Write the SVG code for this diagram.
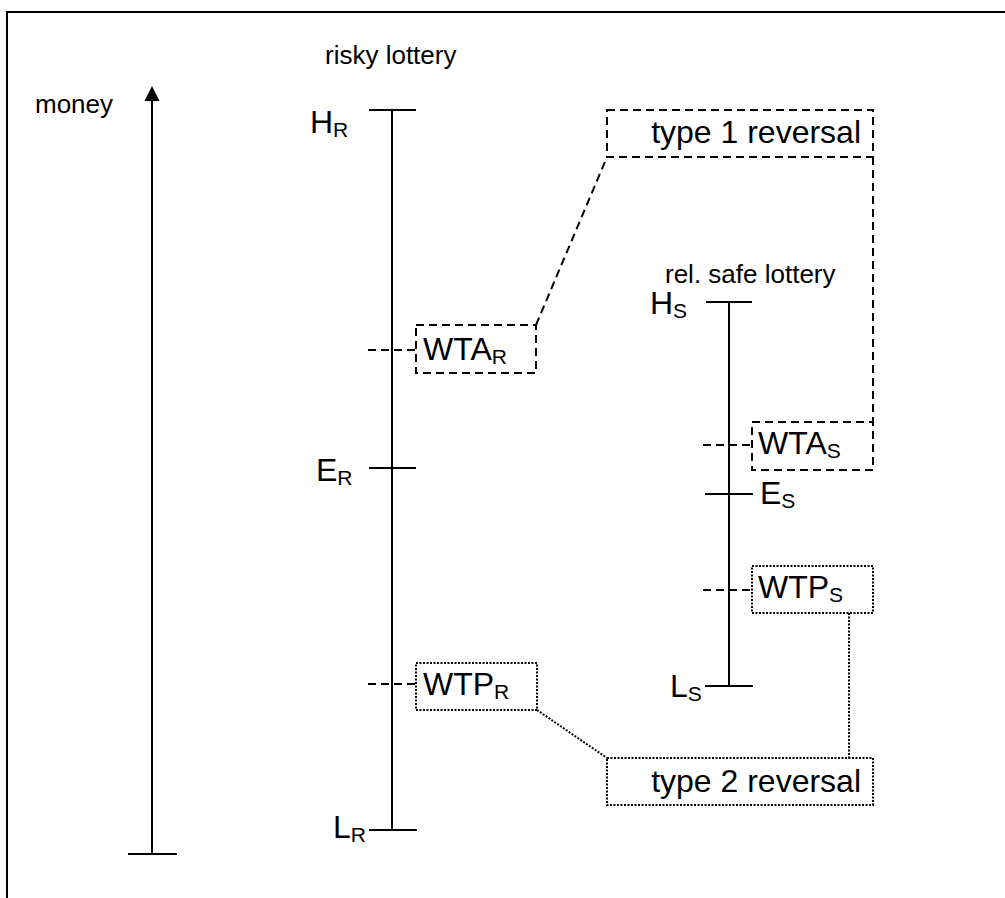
<svg xmlns="http://www.w3.org/2000/svg" width="1005" height="898" viewBox="0 0 1005 898">
<style>
.ln{stroke:#000;stroke-width:2;fill:none}
.da{stroke:#000;stroke-width:2;fill:none;stroke-dasharray:8 5}
.dt{stroke:#000;stroke-width:2;fill:none;stroke-dasharray:2 1.5}
.sm{font-family:"Liberation Sans",Arial,sans-serif;font-size:26px;fill:#000}
.bg{font-family:"Liberation Sans",Arial,sans-serif;font-size:32px;fill:#000}
.sub{font-size:21px}
</style>
<rect x="0" y="0" width="1005" height="898" fill="#fff"/>
<g id="frame"><path class="ln" d="M7,898 V12 H1005"/></g>
<g id="money-axis">
<text class="sm" x="35" y="113">money</text>
<line class="ln" x1="152" y1="854" x2="152" y2="100"/>
<path d="M152,86 L159.5,101 L144.5,101 Z" fill="#000"/>
<line class="ln" x1="128" y1="854" x2="177" y2="854"/>
</g>
<g id="risky-lottery">
<text class="sm" x="325" y="64">risky lottery</text>
<line class="ln" x1="392" y1="110" x2="392" y2="830"/>
<line class="ln" x1="369" y1="110" x2="416" y2="110"/>
<text class="bg" x="310" y="133">H<tspan class="sub" dy="4">R</tspan></text>
<line class="ln" x1="369" y1="468" x2="416" y2="468"/>
<text class="bg" x="316" y="481">E<tspan class="sub" dy="4">R</tspan></text>
<line class="ln" x1="369" y1="830" x2="417" y2="830"/>
<text class="bg" x="333" y="838">L<tspan class="sub" dy="4">R</tspan></text>
</g>
<g id="safe-lottery">
<text class="sm" x="665" y="283">rel. safe lottery</text>
<line class="ln" x1="729" y1="302" x2="729" y2="686"/>
<line class="ln" x1="706" y1="302" x2="752" y2="302"/>
<text class="bg" x="650" y="314">H<tspan class="sub" dy="4">S</tspan></text>
<line class="ln" x1="705" y1="494" x2="753" y2="494"/>
<text class="bg" x="760" y="504">E<tspan class="sub" dy="4">S</tspan></text>
<line class="ln" x1="705" y1="686" x2="753" y2="686"/>
<text class="bg" x="670" y="697">L<tspan class="sub" dy="4">S</tspan></text>
</g>
<g id="wta-r">
<rect class="da" x="416" y="325" width="120" height="48"/>
<text class="bg" x="423" y="360">WTA<tspan class="sub" dy="4">R</tspan></text>
</g>
<g id="wtp-r">
<rect class="dt" x="416" y="663" width="121" height="47"/>
<text class="bg" x="423" y="695">WTP<tspan class="sub" dy="4">R</tspan></text>
</g>
<g id="wta-s">
<rect class="da" x="752" y="422" width="121" height="48"/>
<text class="bg" x="758" y="454">WTA<tspan class="sub" dy="4">S</tspan></text>
</g>
<g id="wtp-s">
<rect class="dt" x="752" y="566" width="121" height="47"/>
<text class="bg" x="758" y="598">WTP<tspan class="sub" dy="4">S</tspan></text>
</g>
<g id="type1">
<rect class="da" x="607" y="110" width="266" height="47"/>
<text class="bg" x="861" y="143" text-anchor="end">type 1 reversal</text>
</g>
<g id="type2">
<rect class="dt" x="607" y="758" width="266" height="47"/>
<text class="bg" x="861" y="792" text-anchor="end">type 2 reversal</text>
</g>
<g id="connectors">
<line class="da" x1="368" y1="350" x2="416" y2="350"/>
<line class="da" x1="368" y1="684" x2="416" y2="684"/>
<line class="da" x1="703" y1="445" x2="752" y2="445"/>
<line class="da" x1="703" y1="590" x2="752" y2="590"/>
<line class="da" x1="536" y1="325" x2="607" y2="157"/>
<line class="da" x1="873" y1="157" x2="873" y2="422"/>
<line class="dt" x1="537" y1="710" x2="607" y2="758"/>
<line class="dt" x1="849" y1="613" x2="849" y2="758"/>
</g>
</svg>
